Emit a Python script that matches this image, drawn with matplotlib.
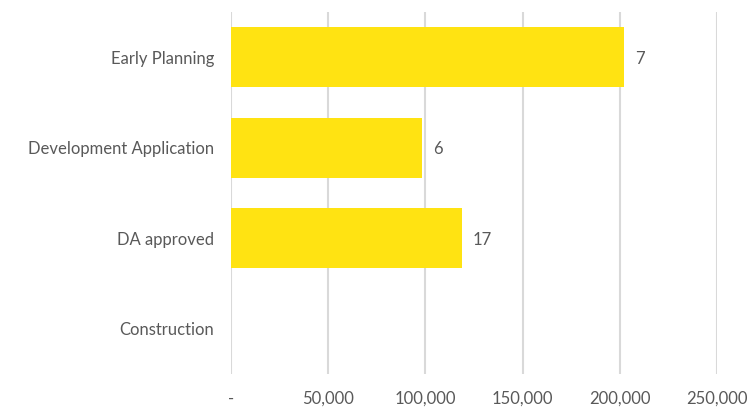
import matplotlib.pyplot as plt
from matplotlib.ticker import FuncFormatter

plt.rcParams['font.family'] = ['Lato', 'DejaVu Sans']

stages = ['Early Planning', 'Development Application', 'DA approved', 'Construction']
values = [202000, 98500, 118700, 0]
counts = ['7', '6', '17', '']

fig = plt.figure(figsize=(7.5, 4.08), dpi=100)
ax = fig.add_axes([0.308, 0.083, 0.648, 0.888])

ypos = range(len(stages))
ax.barh(ypos, values, height=0.66, color='#ffe312', zorder=3)

for y, v, c in zip(ypos, values, counts):
    if c:
        ax.annotate(c, (v, y), xytext=(8, 0), textcoords='offset points',
                    va='center_baseline', ha='left', fontsize=12, color='#595959')

ax.set_xlim(0, 250000)
ax.set_ylim(3.5, -0.5)
ax.set_xticks(range(0, 250001, 50000))
ax.xaxis.set_major_formatter(FuncFormatter(lambda x, p: '-' if x == 0 else f'{int(x):,}'))
ax.set_yticks(list(ypos))
ax.set_yticklabels(stages)
ax.tick_params(axis='both', length=0, labelsize=12, colors='#595959')
ax.tick_params(axis='x', pad=12)
ax.tick_params(axis='y', pad=12)

ax.xaxis.grid(True, color='#d9d9d9', linewidth=1.5, zorder=0)
for s in ax.spines.values():
    s.set_visible(False)

fig.savefig('out.png', dpi=100)
